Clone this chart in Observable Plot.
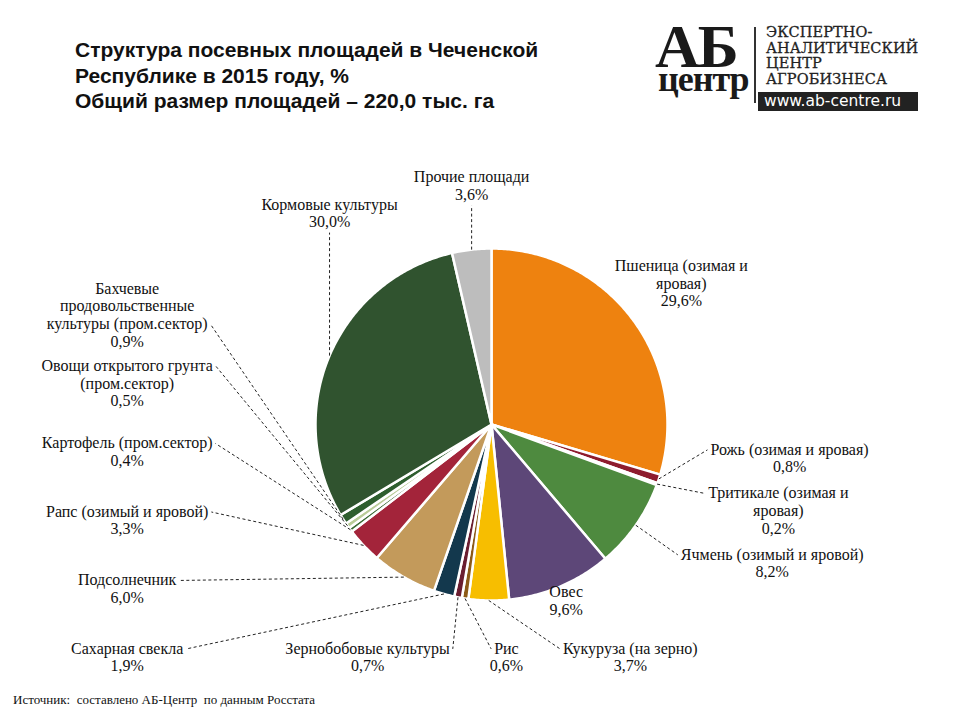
<!DOCTYPE html>
<html><head><meta charset="utf-8">
<script src="https://cdn.jsdelivr.net/npm/d3@7"></script>
<script src="https://cdn.jsdelivr.net/npm/@observablehq/plot@0.6"></script>
<style>
body{margin:0;background:#fff;width:960px;height:720px;position:relative;overflow:hidden}
#title{position:absolute;left:75px;top:37px;font:bold 21px "Liberation Sans",Arial,sans-serif;line-height:25.5px;color:#111;white-space:nowrap}
#mark{position:absolute;left:655px;top:24px;width:96px;color:#1a1a1a;font-family:"Liberation Serif",serif;font-weight:bold;white-space:nowrap}
#mark .a{display:block;font-size:62px;line-height:44px;height:44px;letter-spacing:-2px}
#mark .c{display:block;font-size:36px;line-height:22px;height:22px;letter-spacing:-1px;margin-left:3px}
#vline{position:absolute;left:754px;top:27px;width:2px;height:76px;background:#333}
.lt{position:absolute;left:766px;height:15.7px;font:14.5px "DejaVu Serif",serif;line-height:15.7px;color:#222;letter-spacing:0.1px;white-space:nowrap;-webkit-text-stroke:0.3px #222}
#url{position:absolute;left:758px;top:92px;width:160px;height:19px;background:#222;color:#fff;font:15.5px "DejaVu Sans",sans-serif;line-height:19px;padding-left:6px;box-sizing:border-box;white-space:nowrap}
#chart{position:absolute;left:0;top:140px}
#source{position:absolute;left:13px;top:692px;font:13px "Liberation Serif",serif;color:#111;white-space:pre}
</style></head><body>
<div id="title">Структура посевных площадей в Чеченской<br>Республике в 2015 году, %<br>Общий размер площадей – 220,0 тыс. га</div>
<div id="mark"><span class="a">АБ</span><span class="c">центр</span></div>
<div id="vline"></div>
<div class="lt" style="top:25px">ЭКСПЕРТНО-</div>
<div class="lt" style="top:40.7px">АНАЛИТИЧЕСКИЙ</div>
<div class="lt" style="top:56.4px">ЦЕНТР</div>
<div class="lt" style="top:72.1px">АГРОБИЗНЕСА</div>
<div id="url">www.ab-centre.ru</div>
<div id="chart"></div>
<div id="source">Источник:  составлено АБ-Центр  по данным Росстата</div>
<script>
// ---- data (clockwise from 12 o'clock) ----
const categories = [
  "Пшеница (озимая и\nяровая)",
  "Рожь (озимая и яровая)",
  "Тритикале (озимая и\nяровая)",
  "Ячмень (озимый и яровой)",
  "Овес",
  "Кукуруза (на зерно)",
  "Рис",
  "Зернобобовые культуры",
  "Сахарная свекла",
  "Подсолнечник",
  "Рапс (озимый и яровой)",
  "Картофель (пром.сектор)",
  "Овощи открытого грунта\n(пром.сектор)",
  "Бахчевые\nпродовольственные\nкультуры (пром.сектор)",
  "Кормовые культуры",
  "Прочие площади"
];
const shares = [29.6, 0.8, 0.2, 8.2, 9.6, 3.7, 0.6, 0.7, 1.9, 6.0, 3.3, 0.4, 0.5, 0.9, 30.0, 3.6];
const colors = ["#EE820F", "#8E1C2E", "#E3DCC2", "#4E8A3F", "#5D4778", "#F7BE00", "#8C5A17", "#6A1D30",
                "#13384D", "#C39A5B", "#A3243A", "#3A6B34", "#B9CC98", "#2E5E2E", "#30532F", "#BDBDBD"];

// ---- layout constants ----
const W = 960, H = 550, R = 176, CX = 491, CY = 284;
const FONT = "Liberation Serif";
const FS = 16, LH = 17.8;
const fmt = v => v.toFixed(1).replace(".", ",") + "%";
const ctx = document.createElement("canvas").getContext("2d");
ctx.font = `${FS}px "${FONT}"`;

const total = d3.sum(shares);
let cum = 0;
const slices = categories.map((name, i) => {
  const a0 = cum / total * 2 * Math.PI; cum += shares[i];
  const a1 = cum / total * 2 * Math.PI;
  return {name, value: shares[i], a0, a1, mid: (a0 + a1) / 2};
});

// slice polygons in unit-radius data space
const poly = slices.flatMap(s => {
  const n = Math.max(2, Math.ceil((s.a1 - s.a0) / 0.01));
  const pts = [{name: s.name, x: 0, y: 0}];
  for (let k = 0; k <= n; k++) {
    const a = s.a0 + (s.a1 - s.a0) * k / n;
    pts.push({name: s.name, x: Math.sin(a), y: Math.cos(a)});
  }
  return pts;
});

// ---- label layout (pixel offsets from pie centre, y down) ----
const clamp0 = (lo, hi) => Math.max(lo, Math.min(hi, 0));
const labels = slices.map(s => {
  const lines = (s.name + "\n" + fmt(s.value)).split("\n");
  const widths = lines.map(l => ctx.measureText(l).width);
  const w = Math.max(...widths);
  const deg = s.mid * 180 / Math.PI;
  const ux = Math.sin(s.mid), uy = -Math.cos(s.mid);
  const group = deg < 170 ? "right" : deg < 193 ? "bottom" : deg < 290 ? "left" : "top";
  return {...s, lines, widths, w, wi: widths.indexOf(w), h: lines.length * LH, deg, ux, uy, group,
          ex: R * ux, ey: R * uy, leader: true};
});
const lineY = (L, k) => L.cy - L.h / 2 + (k + 0.5) * LH + 1;

// right side
const right = labels.filter(d => d.group === "right");
for (const L of right) {
  if (L.value >= 9) {
    let t = R * 0.8;
    for (;;) {
      const cx = L.ux * t, cy = L.uy * t;
      const nx = clamp0(cx - L.w / 2, cx + L.w / 2), ny = clamp0(cy - L.h / 2, cy + L.h / 2);
      if (Math.hypot(nx, ny) >= R - 8) break;
      t += 1;
    }
    L.cx = L.ux * t; L.cy = L.uy * t; L.leader = false;
  } else {
    const ax = L.ux * (R + 50), ay = L.uy * (R + 50);
    L.cx = ax + 4 + L.w / 2;
    L.cy = ay - (L.wi + 0.5) * LH + L.h / 2;
  }
}
const overlap = (a, b, pad) =>
  Math.abs(a.cx - b.cx) < (a.w + b.w) / 2 + pad && Math.abs(a.cy - b.cy) < (a.h + b.h) / 2 + pad;
const settled = [];
for (const L of right.slice().sort((a, b) => b.deg - a.deg)) {
  let moved = true, guard = 0;
  while (moved && guard++ < 50) {
    moved = false;
    for (const S of settled) if (overlap(L, S, 8)) {
      L.cy = S.cy - S.h / 2 - 8 - L.h / 2; moved = true;
    }
  }
  settled.push(L);
}
for (const L of right) { L.axp = L.cx - L.w / 2 - 3; L.ayp = lineY(L, L.wi); }

// bottom row
const bottom = labels.filter(d => d.group === "bottom").sort((a, b) => a.deg - b.deg);
{
  const gap = 40;
  const span = d3.sum(bottom, d => d.w) + gap * (bottom.length - 1);
  let xr = span / 2;
  for (const L of bottom) {
    L.cx = xr - L.w / 2; xr -= L.w + gap;
    L.cy = R * 1.32;
    const w0 = L.widths[0];
    L.axp = L.cx > L.ex ? L.cx - w0 / 2 - 3 : L.cx + w0 / 2 + 3;
    L.ayp = lineY(L, 0);
  }
}

// left column
const left = labels.filter(d => d.group === "left").sort((a, b) => a.deg - b.deg);
{
  const yb = R * 1.32, yt = -R * 0.625;
  left.forEach((L, i) => {
    L.cx = -R * 2.07;
    L.cy = yb - i * (yb - yt) / (left.length - 1);
    L.axp = L.cx + L.w / 2 + 3; L.ayp = lineY(L, L.wi);
  });
}

// top
for (const L of labels.filter(d => d.group === "top")) {
  L.cx = L.ex;
  const x0 = L.cx - L.w / 2, x1 = L.cx + L.w / 2;
  const xn = Math.abs(clamp0(x0, x1));
  const topY = xn < R ? -Math.sqrt(R * R - xn * xn) : 0;
  const bottomY = topY - 45;
  L.cy = bottomY - L.h / 2;
  L.axp = L.ex; L.ayp = bottomY + 2;
}

const textData = labels.map(L => ({x: L.cx / R, y: -L.cy / R, text: L.lines.join("\n")}));
const leaders = labels.filter(L => L.leader).map(L => ({
  x1: L.ex / R, y1: -L.ey / R, x2: L.axp / R, y2: -L.ayp / R
}));

const chart = Plot.plot({
  width: W, height: H, margin: 0,
  x: {domain: [-CX / R, (W - CX) / R], range: [0, W], axis: null},
  y: {domain: [-(H - CY) / R, CY / R], range: [H, 0], axis: null},
  color: {domain: categories, range: colors},
  style: {background: "transparent", fontFamily: FONT, overflow: "visible"},
  marks: [
    Plot.line(poly, {x: "x", y: "y", z: "name", fill: "name", stroke: "white", strokeWidth: 2.5, curve: "linear-closed"}),
    Plot.link(leaders, {x1: "x1", y1: "y1", x2: "x2", y2: "y2", stroke: "#222", strokeWidth: 1, strokeDasharray: "3,2.5"}),
    Plot.text(textData, {x: "x", y: "y", text: "text", fontSize: FS, fontFamily: FONT, lineHeight: LH / FS,
      textAnchor: "middle", lineAnchor: "middle", fill: "#111"})
  ]
});
document.getElementById("chart").appendChild(chart);
</script>
</body></html>
